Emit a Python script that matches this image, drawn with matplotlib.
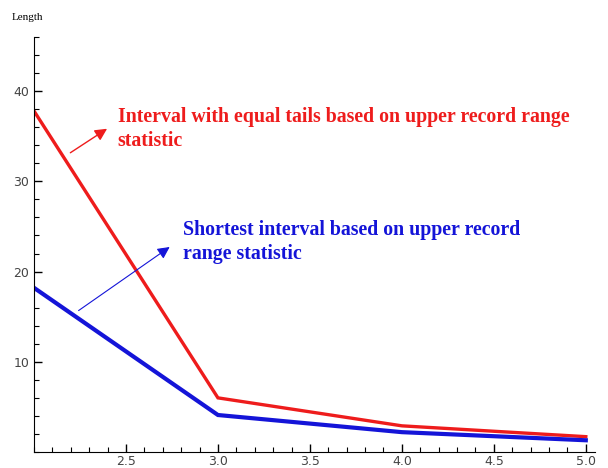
import numpy as np
import matplotlib.pyplot as plt
from matplotlib.ticker import MultipleLocator, FixedLocator

# values
n_vals = [2.0, 3.0, 4.0, 5.0]
equal_tails = [37.8, 6.0, 2.9, 1.7]
shortest = [18.2, 4.1, 2.2, 1.3]
x_ticks = [2.5, 3.0, 3.5, 4.0, 4.5, 5.0]
y_ticks = [10, 20, 30, 40]

fig = plt.figure(figsize=(6.08, 4.68), dpi=100)
ax = fig.add_axes([34/608, 16/468, 561/608, 415/468])

ax.plot(n_vals, equal_tails, color='#ee1c1c', lw=2.4, solid_joinstyle='miter')
ax.plot(n_vals, shortest, color='#1414d8', lw=3.0, solid_joinstyle='miter')

ax.set_xlim(2, 5.05)
ax.set_ylim(0, 46)
for s in ['top', 'right']:
    ax.spines[s].set_visible(False)
ax.spines['left'].set_position(('data', 2))
ax.spines['bottom'].set_position(('data', 0))

ax.xaxis.set_major_locator(FixedLocator(x_ticks))
ax.xaxis.set_minor_locator(MultipleLocator(0.1))
ax.yaxis.set_major_locator(FixedLocator(y_ticks))
ax.yaxis.set_minor_locator(MultipleLocator(2))
ax.set_xticklabels(['%.1f' % t for t in x_ticks])
ax.tick_params(which='both', direction='in', color='black', labelsize=9, labelcolor='#444444')
ax.tick_params(axis='x', pad=2)
ax.tick_params(which='major', length=6, width=1)
ax.tick_params(which='minor', length=3.5, width=0.8)

fig.text(12/608, 1 - 18/468, 'Length', family='Liberation Serif', fontsize=8, va='center')

# annotations
ax.annotate('', xy=(2.41, 36.0), xytext=(2.185, 33.0),
            arrowprops=dict(arrowstyle='-|>', color='#ee1c1c', lw=1.0, mutation_scale=18))
ax.annotate('', xy=(2.75, 22.9), xytext=(2.23, 15.5),
            arrowprops=dict(arrowstyle='-|>', color='#1414d8', lw=0.8, mutation_scale=18))

ax.text(2.455, 35.8, 'Interval with equal tails based on upper record range\nstatistic',
        color='#ee1c1c', family='Liberation Serif', weight='bold', fontsize=14.3,
        va='center', linespacing=1.28)
ax.text(2.81, 23.3, 'Shortest interval based on upper record\nrange statistic',
        color='#1414d8', family='Liberation Serif', weight='bold', fontsize=14.3,
        va='center', linespacing=1.28)

fig.savefig('out.png', dpi=100)
